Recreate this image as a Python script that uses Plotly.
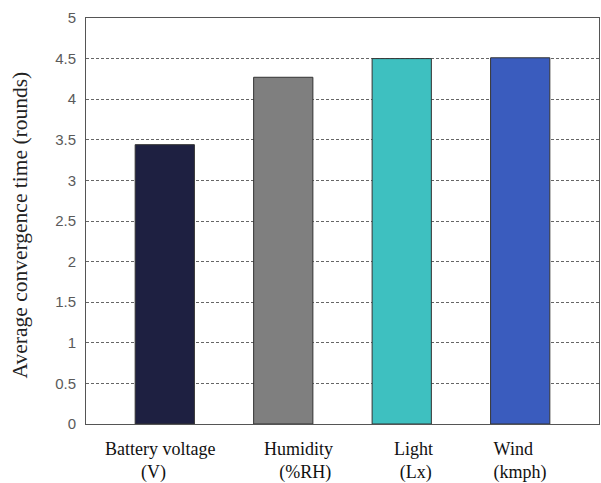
import plotly.graph_objects as go

# Sensor categories and average convergence time (rounds)
categories = ["Battery voltage", "Humidity", "Light", "Wind"]
units = ["(V)", "(%RH)", "(Lx)", "(kmph)"]
values = [3.44, 4.27, 4.50, 4.51]
bar_colors = ["#1e2041", "#7f7f7f", "#3ec0c0", "#3a5cbe"]
y_ticks = [0, 0.5, 1, 1.5, 2, 2.5, 3, 3.5, 4, 4.5, 5]
y_tick_text = ["0", "0.5", "1", "1.5", "2", "2.5", "3", "3.5", "4", "4.5", "5"]

x_pos = [1, 2, 3, 4]

fig = go.Figure()
fig.add_trace(go.Bar(
    x=x_pos, y=values, width=0.5,
    marker=dict(color=bar_colors, line=dict(color="#333333", width=1)),
    showlegend=False, hoverinfo="skip",
))

# Two-line category labels under each bar (name and unit);
# non-breaking spaces nudge the unit line sideways under the name
NB = "&nbsp;"
label_shift = [-5, 15, 12, -7]
unit_pad_left = [0, 3, 1, 3]
unit_pad_right = [3, 0, 0, 0]
serif = "Liberation Serif, Times New Roman, serif"
for xp, name, unit, sh, pl, pr in zip(x_pos, categories, units, label_shift,
                                      unit_pad_left, unit_pad_right):
    fig.add_annotation(x=xp, y=0, xref="x", yref="y", yshift=-13, xshift=sh,
                       text=name + "<br>" + NB * pl + unit + NB * pr,
                       showarrow=False, yanchor="top", align="center",
                       font=dict(family=serif, size=18, color="#111111"))

fig.add_annotation(x=-0.128, y=0.49, xref="paper", yref="paper",
                   text="Average convergence time (rounds)", textangle=-90,
                   showarrow=False, xanchor="center", yanchor="middle",
                   font=dict(family=serif, size=21.5, color="#222222"))

fig.update_layout(
    width=601, height=483,
    margin=dict(l=86, r=2, t=18, b=59),
    paper_bgcolor="white", plot_bgcolor="white",
    bargap=0.5,
    xaxis=dict(range=[0.335, 4.665], showticklabels=False, showgrid=False,
               zeroline=False, showline=True, linecolor="#555555", linewidth=1,
               mirror=True, ticks=""),
    yaxis=dict(range=[0, 5], tickvals=y_ticks, ticktext=y_tick_text,
               showgrid=True, gridcolor="#666666", griddash="3px,2px", gridwidth=1.3,
               zeroline=False, showline=True, linecolor="#555555", linewidth=1,
               mirror=True, ticks="", ticklabelstandoff=6,
               tickfont=dict(family="Liberation Sans, Arial, sans-serif", size=15, color="#5a5a5a")),
)

fig.write_html("out.html")
